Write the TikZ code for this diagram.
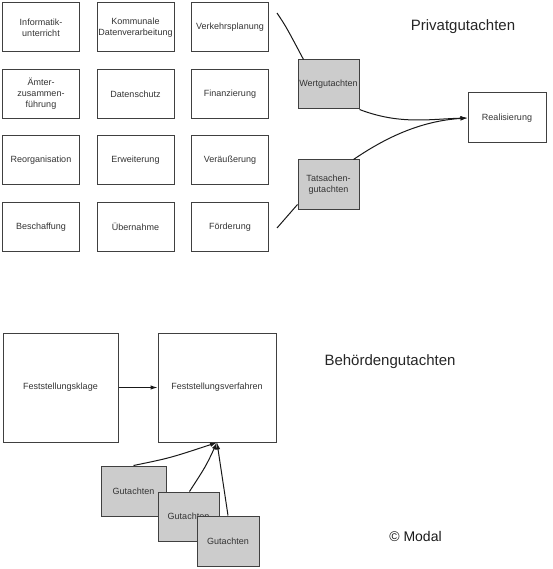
\documentclass[tikz,border=0pt]{standalone}
\usepackage{fontspec}
\setmainfont{Liberation Sans}
\usetikzlibrary{positioning,arrows.meta}

\tikzset{
  feld/.style={draw=black!75, line width=1pt, minimum width=77pt, minimum height=49pt,
    inner sep=1pt, align=center, font=\fontsize{9}{11}\selectfont, text=black!80},
  gutachten/.style={feld, fill=black!20, minimum width=61pt},
  gross/.style={feld, minimum height=109pt},
  titel/.style={font=\fontsize{15}{18}\selectfont, text=black!85},
  pfeil/.style={line width=1pt, draw=black!90, -{Latex[length=7pt,width=4.5pt]}},
  linie/.style={line width=1pt, draw=black!90}
}

\begin{document}
\begin{tikzpicture}[x=1pt, y=-1pt, node distance=16.5pt and 16.5pt]
  \useasboundingbox (0,0) rectangle (552,569);
  % Privatgutachten
  \node[feld] (info) at (41,27.5) {Informatik-\\unterricht};
  \node[feld, right=of info] (kommunal) {Kommunale\\Datenverarbeitung};
  \node[feld, right=of kommunal] (verkehr) {Verkehrsplanung};
  \node[feld, below=of info] (aemter) {Ämter-\\zusammen-\\führung};
  \node[feld, right=of aemter] (datenschutz) {Datenschutz};
  \node[feld, right=of datenschutz] (finanz) {Finanzierung};
  \node[feld, below=of aemter] (reorg) {Reorganisation};
  \node[feld, right=of reorg] (erweit) {Erweiterung};
  \node[feld, right=of erweit] (veraeuss) {Veräußerung};
  \node[feld, below=of reorg] (beschaff) {Beschaffung};
  \node[feld, right=of beschaff] (uebernahme) {Übernahme};
  \node[feld, right=of uebernahme] (foerder) {Förderung};

  \node[gutachten] (wert) at (328.5,84.5) {Wertgutachten};
  \node[gutachten] (tat) at (328.5,184.5) {Tatsachen-\\gutachten};
  \node[feld, minimum width=78pt, minimum height=50pt] (real) at (507,118) {Realisierung};
  \node[titel] (privat) at (463,27) {Privatgutachten};

  \coordinate (wertein) at (277,13);
  \coordinate (tatein) at (277,228);
  \draw[linie] (wertein) .. controls (286,26.5) .. ([xshift=6pt]wert.north west);
  \draw[linie] (tatein) -- ([yshift=5pt]tat.south west);
  \draw[pfeil] (wert.south east) .. controls (400,125) and (430,119) .. (real.west);
  \draw[pfeil] ([xshift=-6pt]tat.north east) .. controls (385,138) and (420,121) .. (real.west);

  % Behoerdengutachten
  \node[gross, minimum width=115pt] (klage) at (60.5,387.5) {Feststellungsklage};
  \node[gross, minimum width=118pt] (verf) at (217,387.5) {Feststellungsverfahren};
  \node[titel] (behoerde) at (390,362) {Behördengutachten};
  \node[gutachten, minimum width=65pt, minimum height=50pt] (ga) at (133.5,491) {Gutachten};
  \node[gutachten] (gb) at (188.5,516.5) {Gutachten};
  \node[gutachten, minimum width=62pt, minimum height=50pt] (gc) at (228,541) {Gutachten};

  \draw[pfeil] (klage) -- (verf);
  \draw[pfeil] (ga.north) .. controls (170,458) .. (verf.south);
  \draw[pfeil] ([xshift=1pt]gb.north) .. controls (206,466) .. (verf.south);
  \draw[pfeil] (gc.north) -- (verf.south);

  \node[font=\fontsize{14}{16}\selectfont, text=black!90] (modal) at (415.5,536) {© Modal};
\end{tikzpicture}
\end{document}
